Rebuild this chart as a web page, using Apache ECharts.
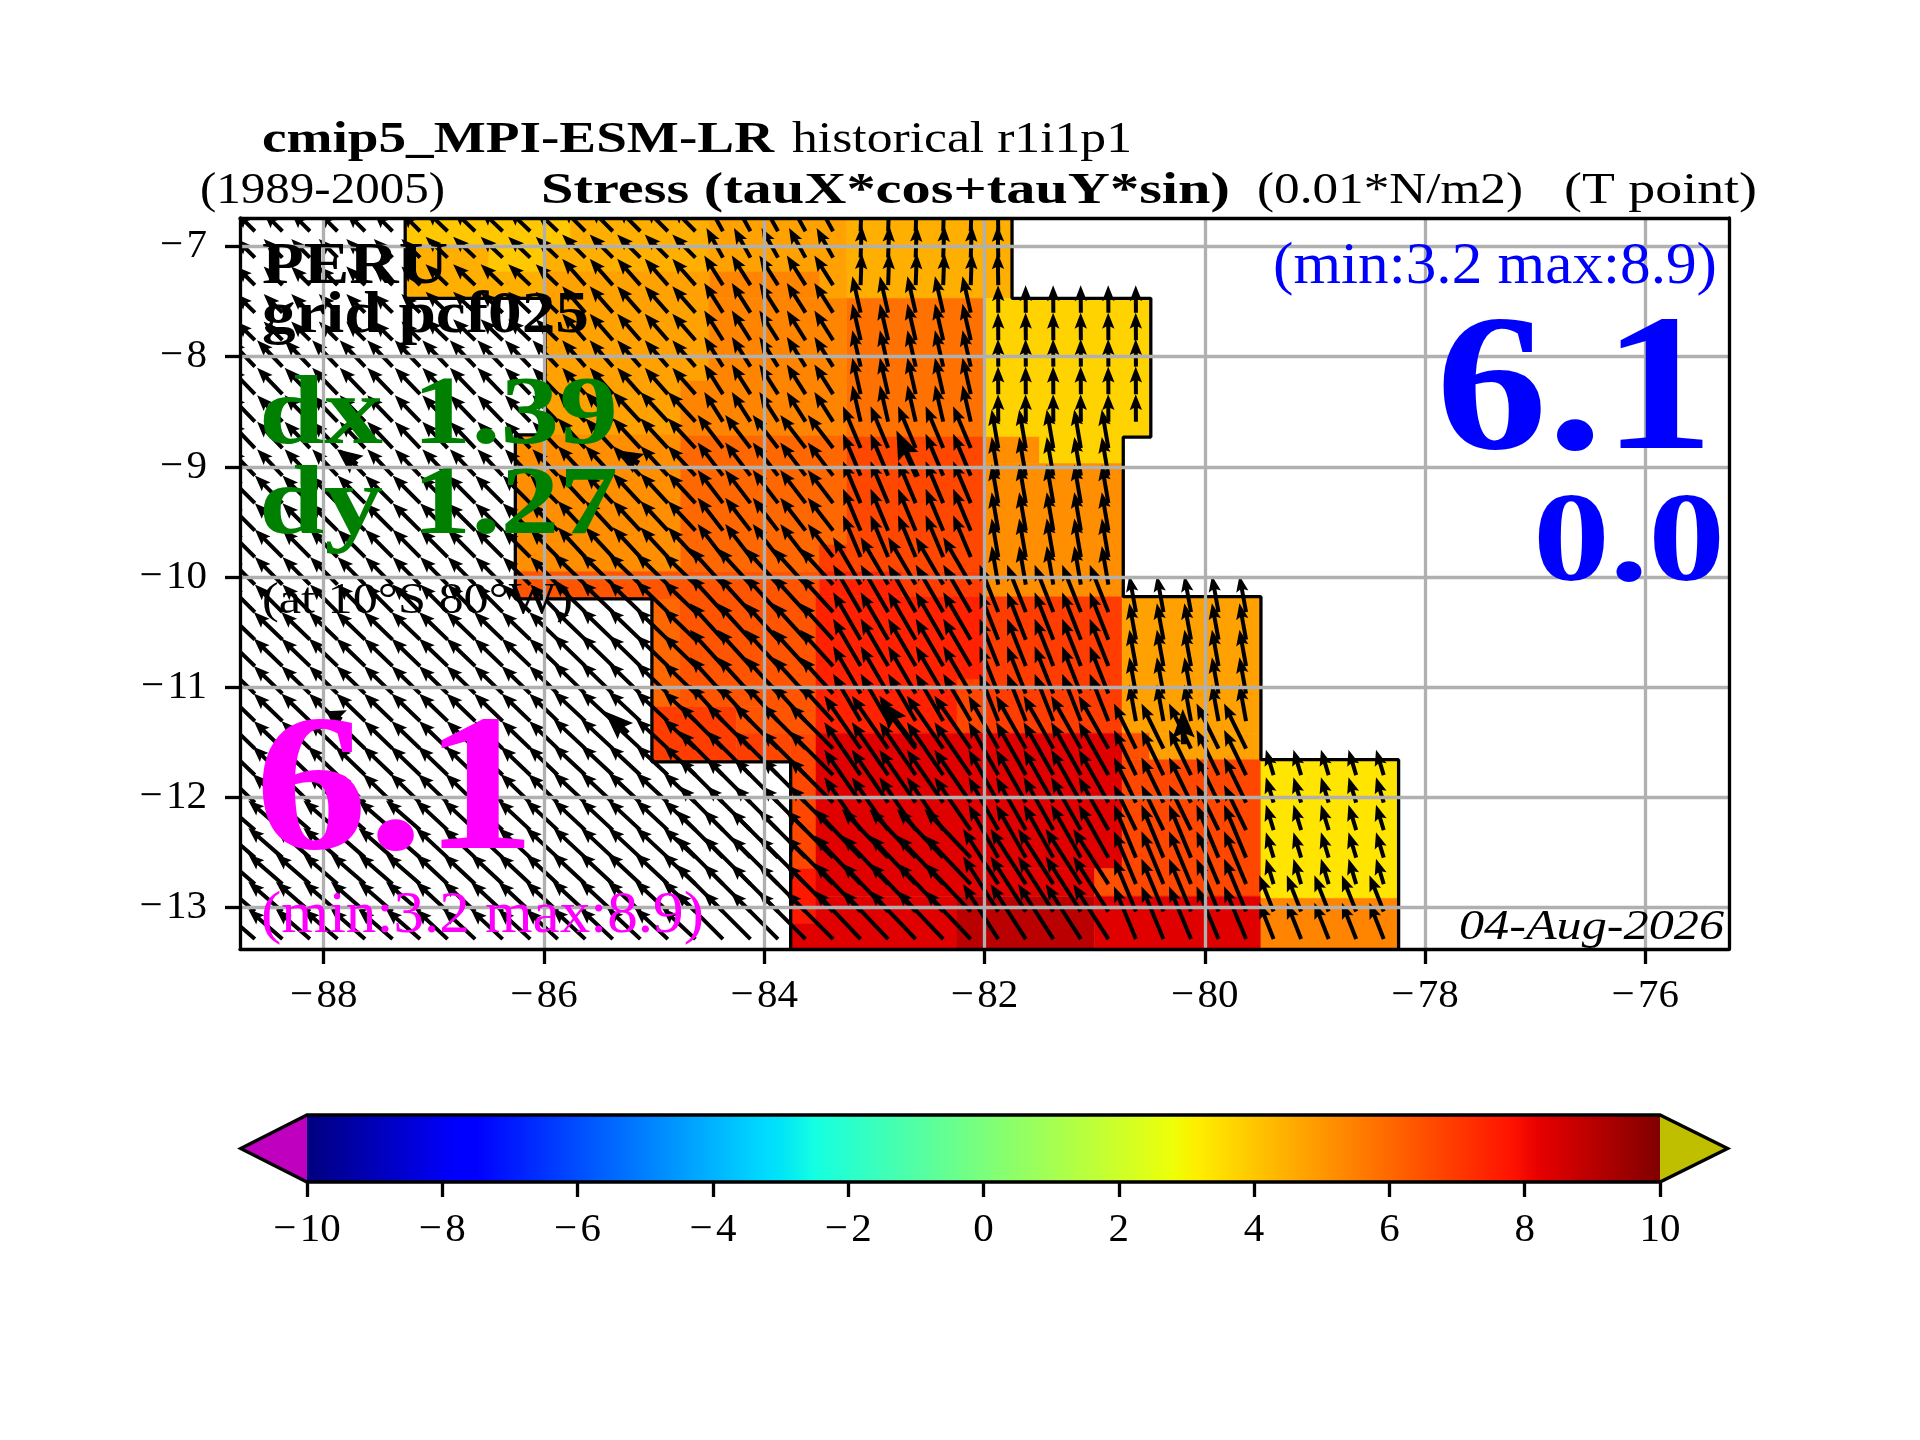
<!DOCTYPE html>
<html><head><meta charset="utf-8">
<style>html,body{margin:0;padding:0;background:#fff}#c{width:1920px;height:1440px}</style>
<script src="https://cdn.jsdelivr.net/npm/echarts@6/dist/echarts.min.js"></script>
</head><body><div id="c"></div>
<script>
// ---------- axis ticks ----------
const lonTicks = [-88,-86,-84,-82,-80,-78,-76];
const latTicks = [-13,-12,-11,-10,-9,-8,-7];
const cbarTicks = [-10,-8,-6,-4,-2,0,2,4,6,8,10];
// ---------- colour scale (jet-like) ----------
const cmapStops = [[0,'#00007f'],[.11,'#0000ff'],[.125,'#0000ff'],[.34,'#00dcff'],[.35,'#00e4f8'],[.375,'#14ffe2'],
 [.64,'#eeff08'],[.65,'#f7f500'],[.66,'#ffec00'],[.89,'#ff1300'],[.91,'#e80000'],[1,'#800000']];
// ---------- shaded cells: lonW, lonE, latN, latS, value ----------
const cells = [
[-87.26,-85.76,-6.74,-6.98,3.96],[-87.26,-86.5,-6.98,-7.23,4.5],[-86.5,-86,-6.98,-7.23,3.96],[-87.26,-85.99,-7.23,-7.47,4.5],
[-85.76,-84.5,-6.74,-6.98,4.5],[-86,-84.5,-6.98,-7.23,4.5],[-84.5,-83.25,-6.74,-7.23,4.8],[-83.25,-81.75,-6.74,-7.47,4.5],
[-83.5,-83.25,-7.23,-7.47,4.8],[-84.5,-83.5,-7.23,-7.47,5.4],[-85.99,-84.5,-7.23,-8.22,4.8],[-85.99,-84.76,-8.22,-8.72,4.8],
[-84.5,-83.25,-7.47,-8.22,5.4],[-84.76,-83.25,-8.22,-8.72,5.4],[-86.26,-84.76,-8.71,-9.95,5.2],[-84.76,-83.25,-8.72,-9.95,6.0],
[-83.5,-83.25,-9.71,-9.95,6.9],[-83.25,-82,-7.47,-8.73,5.8],[-83.25,-82,-8.73,-9.95,6.7],[-86.26,-83.5,-9.95,-10.2,6.4],
[-83.5,-82.75,-9.95,-10.18,7.5],[-82.75,-82,-9.95,-10.18,6.9],[-82,-80.49,-7.47,-8.73,3.73],[-82,-81.5,-8.73,-8.97,5.2],
[-81.5,-80.74,-8.73,-8.97,3.73],[-82,-80.74,-8.97,-10.18,5.2],
[-85.02,-84.77,-10.2,-11.18,6.0],[-84.77,-84,-10.2,-11.18,6.4],[-85.02,-84.25,-11.18,-11.68,6.9],[-84.25,-84,-11.18,-11.42,6.4],
[-84.25,-84,-11.42,-11.68,6.9],[-84,-83.53,-10.2,-11.42,6.4],[-84,-83.76,-11.42,-11.68,6.7],[-83.76,-83.53,-11.42,-12.65,6.7],
[-83.76,-83.53,-12.65,-13.15,7.7],[-83.76,-83.53,-13.15,-13.38,8.34],[-83.53,-82,-10.18,-11.42,7.5],[-82.25,-82,-10.93,-11.42,6.7],
[-83.53,-82,-11.42,-12.9,8.34],[-83.53,-82.25,-12.9,-13.38,8.34],[-82.25,-81,-12.9,-13.38,9.0],[-82,-80.75,-10.18,-11.42,6.9],
[-82,-80.75,-11.42,-12.65,8.34],[-82,-81,-12.65,-12.9,8.34],[-81,-80.75,-12.65,-12.9,6.5],[-80.75,-79.49,-10.18,-11.42,4.8],
[-80.75,-80.5,-11.42,-11.66,6.5],[-80.5,-79.49,-11.42,-11.66,4.8],[-80.75,-79.49,-11.66,-12.9,6.7],[-81,-79.49,-12.9,-13.38,8.34],
[-79.49,-78.24,-11.66,-12.92,3.34],[-79.49,-78.24,-12.92,-13.38,5.4]];
// ---------- mask outline ----------
const coastWestLon = [-87.26,-87.26,-85.99,-85.99,-86.26,-86.26,-85.02,-85.02,-83.76,-83.76];
const coastWestLat = [-6.74,-7.47,-7.47,-8.71,-8.71,-10.2,-10.2,-11.68,-11.68,-13.38];
const coastEastLon = [-81.75,-81.75,-80.49,-80.49,-80.74,-80.74,-79.49,-79.49,-78.24,-78.24];
const coastEastLat = [-6.74,-7.47,-7.47,-8.73,-8.73,-10.18,-10.18,-11.66,-11.66,-13.38];
// ---------- arrow grid ----------
const arrowLons = [-88.625,-88.375,-88.125,-87.875,-87.625,-87.375,-87.125,-86.875,-86.625,-86.375,-86.125,-85.875,-85.625,-85.375,-85.125,-84.875,-84.625,-84.375,-84.125,-83.875,-83.625,-83.375,-83.125,-82.875,-82.625,-82.375,-82.125,-81.875,-81.625,-81.375,-81.125,-80.875,-80.625,-80.375,-80.125,-79.875,-79.625,-79.375,-79.125,-78.875,-78.625,-78.375];
const arrowLats = [-6.86,-7.10,-7.35,-7.60,-7.85,-8.09,-8.34,-8.59,-8.83,-9.08,-9.33,-9.58,-9.82,-10.07,-10.32,-10.57,-10.81,-11.06,-11.31,-11.56,-11.80,-12.05,-12.30,-12.55,-12.79,-13.04,-13.29];
const blockLonEdges = [-88.75,-87,-85.75,-84.5,-83.25,-82,-80.75,-79.5,-78.25];
// block edges in latitude differ per column because the model cells shift with longitude
const blockLatEdgesByCol = [
 [-6.74,-7.97,-9.2,-10.4,-11.66,-12.14,-13.38],
 [-6.74,-7.97,-9.2,-10.4,-11.66,-12.14,-13.38],
 [-6.74,-7.23,-8.47,-9.95,-11.18,-12.65,-13.38],
 [-6.74,-7.23,-8.72,-9.95,-11.42,-12.36,-13.38],
 [-6.74,-7.47,-8.73,-9.95,-11.42,-12.36,-13.38],
 [-6.74,-7.47,-8.73,-10.18,-11.42,-12.6,-13.38],
 [-6.74,-7.47,-8.73,-10.18,-11.42,-12.54,-13.38],
 [-6.74,-7.47,-8.73,-10.18,-11.66,-12.92,-13.38]];
const eastLimitLat = [-6.74,-7.47,-8.73,-10.18,-11.66,-13.38];
const eastLimitLon = [-81.75,-80.5,-80.74,-79.5,-78.25];
// arrow vector per block, in degrees on the map (rows north to south, columns west to east)
const vecEast = [
 [-.17,-.20,-.21,-.15, .01,-.005,0,0],
 [-.23,-.23,-.21,-.17,-.075,-.002,-.002,0],
 [-.25,-.25,-.25,-.23,-.16,-.06,0,0],
 [-.26,-.26,-.29,-.30,-.25,-.17,-.06,0],
 [-.27,-.27,-.29,-.40,-.33,-.27,-.20,-.07],
 [-.31,-.29,-.30,-.43,-.42,-.32,-.20,-.13]];
const vecNorth = [
 [.17,.19,.21,.27,.29,.29,0,0],
 [.24,.24,.24,.27,.33,.25,.25,0],
 [.25,.25,.27,.30,.38,.35,0,0],
 [.25,.25,.28,.33,.43,.43,.33,0],
 [.26,.26,.27,.40,.48,.48,.41,.23],
 [.27,.27,.28,.43,.44,.50,.48,.33]];
// heavier arrows seen on the field: lon, lat, east, north
const boldLon = [-87.70,-85.14,-82.61,-80.19,-82.63,-85.24,-87.84];
const boldLat = [-8.98,-8.97,-9.09,-11.52,-11.54,-11.42,-11.30];
const boldEast = [-.18,-.20,-.19,-.01,-.32,-.21,-.14];
const boldNorth = [.14,.12,.42,.32,.42,.20,.08];
// ---------- texts ----------
const fontName = '"Liberation Serif"';
const texts = [
 ['cmip5_MPI-ESM-LR','bold',45,262,774,153,'#000'],
 ['historical r1i1p1','normal',45,792,1132,153,'#000'],
 ['(1989-2005)','normal',45,200,445,204,'#000'],
 ['Stress (tauX*cos+tauY*sin)','bold',45,541,1230,204,'#000'],
 ['(0.01*N/m2)','normal',45,1257,1523,204,'#000'],
 ['(T point)','normal',45,1564,1757,204,'#000'],
 ['PERU','bold',60,262,448,284,'#000'],
 ['grid pcf025','bold',60,262,589,333,'#000'],
 ['dx 1.39','bold',98,259,618,445,'#008000'],
 ['dy 1.27','bold',98,259,618,535,'#008000'],
 ['(at 10°S 80°W)','normal',44,262,573,614,'#000'],
 ['6.1','bold',195,255,536,852,'#ff00ff'],
 ['(min:3.2 max:8.9)','normal',60,261,704,933,'#ff00ff'],
 ['(min:3.2 max:8.9)','normal',60,1273,1717,284,'#0000ff'],
 ['6.1','bold',195,1436,1714,452,'#0000ff'],
 ['0.0','bold',128,1533,1725,583,'#0000ff'],
 ['04-Aug-2026','italic',42,1459,1724,940,'#000']
];

function hex(c){return [parseInt(c.slice(1,3),16),parseInt(c.slice(3,5),16),parseInt(c.slice(5,7),16)];}
function colorOf(v){
 const p=(v+10)/20;
 for(let i=1;i<cmapStops.length;i++){
  if(p<=cmapStops[i][0]){
   const a=cmapStops[i-1],b=cmapStops[i],t=(p-a[0])/(b[0]-a[0]);
   const A=hex(a[1]),B=hex(b[1]);
   return 'rgb('+A.map((x,k)=>Math.round(x+(B[k]-x)*t)).join(',')+')';
  }
 }
 return cmapStops[cmapStops.length-1][1];
}
function lonBlock(v){for(let i=0;i<blockLonEdges.length-1;i++){if(v>=blockLonEdges[i]&&v<blockLonEdges[i+1])return i;}return -1;}
function latBlock(edges,v){for(let i=0;i<edges.length-1;i++){if(v<=edges[i]&&v>edges[i+1])return i;}return -1;}
const arrowData=[];
arrowLats.forEach(lat=>{
 const lim=latBlock(eastLimitLat,lat);
 arrowLons.forEach(lon=>{
  if(lon>eastLimitLon[lim]) return;
  const c=lonBlock(lon);
  const r=latBlock(blockLatEdgesByCol[c],lat);
  arrowData.push([lon,lat,vecEast[r][c],vecNorth[r][c],1]);
 });
});
boldLon.forEach((lon,i)=>arrowData.push([lon,boldLat[i],boldEast[i],boldNorth[i],1.8]));

function renderArrow(params,api){
 const lon=api.value(0),lat=api.value(1),du=api.value(2),dv=api.value(3),k=api.value(4);
 const p=api.coord([lon,lat]),q=api.coord([lon+du,lat+dv]);
 const dx=q[0]-p[0],dy=q[1]-p[1],L=Math.hypot(dx,dy)||1;
 const ux=dx/L,uy=dy/L,nx=-uy,ny=ux;
 const w=2*(k>1?1.4:1),hl=Math.min(16*k,L),nl=hl*.87,hw=6.2*k;
 const pt=(a,b)=>[p[0]+ux*a+nx*b,p[1]+uy*a+ny*b];
 return {type:'polygon',shape:{points:[pt(0,w),pt(L-nl,w),pt(L-hl,hw),pt(L,0),pt(L-hl,-hw),pt(L-nl,-w),pt(0,-w)]},
  style:{fill:'#000'},silent:true};
}
function renderCell(params,api){
 const a=api.coord([api.value(0),api.value(2)]),b=api.coord([api.value(1),api.value(3)]);
 return {type:'rect',shape:{x:a[0],y:a[1],width:b[0]-a[0],height:b[1]-a[1]},
  style:{fill:colorOf(api.value(4)),stroke:colorOf(api.value(4)),lineWidth:.5},silent:true};
}
// text fitted to measured widths
const mctx=document.createElement('canvas').getContext('2d');
const graphicTexts=texts.map(t=>{
 const [s,wt,size,x0,x1,base,col]=t;
 const font=(wt==='italic'?'italic ':wt==='bold'?'bold ':'')+size+'px '+fontName;
 mctx.font=font;
 const sx=(x1-x0)/mctx.measureText(s).width;
 return {type:'text',x:x0,y:base-.28*size,scaleX:sx,z:50,zlevel:0,silent:true,
  style:{text:s,font:font,fill:col,align:'left',verticalAlign:'middle'}};
});
const tickFont={fontFamily:'Liberation Serif',fontSize:41,color:'#000',formatter:v=>String(v).replace('-','\u2212\u200A')};
const frame={show:true,onZero:false,lineStyle:{color:'#000',width:3.3}};
const chart=echarts.init(document.getElementById('c'),null,{renderer:'canvas',devicePixelRatio:1,width:1920,height:1440});
const X=[-88.76,-75.24],Y=[-13.38,-6.74];
const gridLine={show:true,lineStyle:{color:'#b0b0b0',width:3.3}};
chart.setOption({
 animation:false,backgroundColor:'#fff',
 grid:[{left:240,right:191,top:218,bottom:491,containLabel:false},{left:307,right:260,top:1115,bottom:258}],
 xAxis:[
  {type:'value',gridIndex:0,min:X[0],max:X[1],position:'bottom',z:5,axisLine:frame,
   axisTick:{show:true,length:15,customValues:lonTicks,lineStyle:{color:'#000',width:3.3}},
   axisLabel:Object.assign({margin:27,customValues:lonTicks},tickFont),splitLine:gridLine},
  {type:'value',gridIndex:0,min:X[0],max:X[1],position:'top',z:5,axisLine:frame,axisTick:{show:false},axisLabel:{show:false},splitLine:{show:false}},
  {type:'value',gridIndex:1,min:-10,max:10,interval:2,position:'bottom',z:5,axisLine:{show:false},
   axisTick:{show:true,length:15,customValues:cbarTicks,lineStyle:{color:'#000',width:3.3}},
   axisLabel:Object.assign({margin:28,customValues:cbarTicks},tickFont),splitLine:{show:false}}
 ],
 yAxis:[
  {type:'value',gridIndex:0,min:Y[0],max:Y[1],position:'left',z:5,axisLine:frame,
   axisTick:{show:true,length:15,customValues:latTicks,lineStyle:{color:'#000',width:3.3}},
   axisLabel:Object.assign({margin:33,customValues:latTicks,padding:[4,0,0,0]},tickFont),splitLine:gridLine},
  {type:'value',gridIndex:0,min:Y[0],max:Y[1],position:'right',z:5,axisLine:frame,axisTick:{show:false},axisLabel:{show:false},splitLine:{show:false}},
  {type:'value',gridIndex:1,min:0,max:1,show:false}
 ],
 series:[
  {type:'custom',xAxisIndex:0,yAxisIndex:0,z:2,clip:true,data:cells,encode:{x:[0,1],y:[2,3]},renderItem:renderCell,silent:true,progressive:0},
  {type:'line',xAxisIndex:0,yAxisIndex:0,z:3,symbol:'none',silent:true,data:coastWestLon.map((v,i)=>[v,coastWestLat[i]]),lineStyle:{color:'#000',width:3.3}},
  {type:'line',xAxisIndex:0,yAxisIndex:0,z:3,symbol:'none',silent:true,data:coastEastLon.map((v,i)=>[v,coastEastLat[i]]),lineStyle:{color:'#000',width:3.3}},
  {type:'custom',xAxisIndex:0,yAxisIndex:0,z:4,clip:true,data:arrowData,encode:{x:0,y:1},renderItem:renderArrow,silent:true,progressive:0},
  {type:'custom',xAxisIndex:2,yAxisIndex:2,z:2,clip:false,silent:true,data:[[-10,10]],encode:{x:[0,1]},
   renderItem:(p,api)=>{
    const a=api.coord([-10,1]),b=api.coord([10,0]),l=api.coord([-10.98,.5]),r=api.coord([11,.5]);
    return {type:'group',children:[
     {type:'rect',shape:{x:a[0],y:a[1],width:b[0]-a[0],height:b[1]-a[1]},
      style:{fill:new echarts.graphic.LinearGradient(0,0,1,0,cmapStops.map(s=>({offset:s[0],color:s[1]})))}},
     {type:'polygon',shape:{points:[[a[0],a[1]],[a[0],b[1]],l]},style:{fill:'#bf00bf'}},
     {type:'polygon',shape:{points:[[b[0],a[1]],[b[0],b[1]],r]},style:{fill:'#bfbf00'}},
     {type:'polygon',shape:{points:[[a[0],a[1]],[b[0],a[1]],r,[b[0],b[1]],[a[0],b[1]],l]},style:{fill:'none',stroke:'#000',lineWidth:3.3}}
    ]};
   }}
 ],
 graphic:{elements:graphicTexts}
});
</script></body></html>
